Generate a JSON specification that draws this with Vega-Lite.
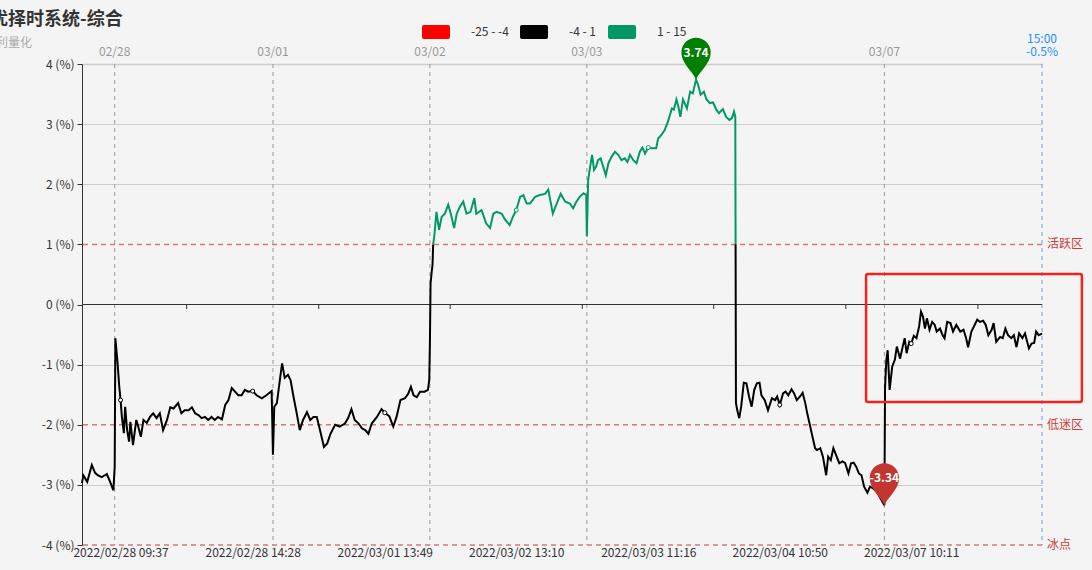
{
  "$schema": "https://vega.github.io/schema/vega-lite/v6.json",
  "width": 960,
  "height": 481,
  "autosize": {"type": "none"},
  "padding": {"left": 82, "top": 64, "right": 50, "bottom": 25},
  "background": "#f4f4f4",
  "config": {"view": {"stroke": null}, "font": "Noto Sans CJK SC"},
  "title": {
    "text": "精优择时系统-综合",
    "subtitle": "来自利量化",
    "anchor": "start",
    "frame": "group",
    "dx": -110,
    "offset": -31,
    "fontSize": 18,
    "fontWeight": "bold",
    "color": "#333333",
    "subtitleFontSize": 12,
    "subtitleColor": "#aaaaaa",
    "subtitlePadding": 9
  },
  "datasets": {
    "a": [
      {"i":0,"v":-2.97},{"i":2,"v":-2.84},{"i":8,"v":-2.95},{"i":15,"v":-2.67},{"i":20,"v":-2.80},{"i":24,"v":-2.84},{"i":30,"v":-2.87},{"i":35,"v":-2.84},{"i":38,"v":-2.82},{"i":43,"v":-2.95},{"i":48,"v":-3.09},{"i":50,"v":-2.70},{"i":51,"v":-0.56},{"i":54,"v":-0.92},{"i":57,"v":-1.37},{"i":59,"v":-1.59},{"i":61,"v":-1.87},{"i":64,"v":-2.14},{"i":66,"v":-1.70},{"i":69,"v":-2.09},{"i":72,"v":-2.28},{"i":74,"v":-1.95},{"i":78,"v":-2.34},{"i":83,"v":-1.92},{"i":86,"v":-2.03},{"i":90,"v":-2.20},{"i":94,"v":-1.92},{"i":99,"v":-1.97},{"i":104,"v":-1.87},{"i":109,"v":-1.81},{"i":114,"v":-1.89},{"i":119,"v":-1.81},{"i":124,"v":-2.09},{"i":130,"v":-1.92},{"i":135,"v":-1.71},{"i":140,"v":-1.73},{"i":147,"v":-1.64},{"i":152,"v":-1.81},{"i":157,"v":-1.76},{"i":163,"v":-1.76},{"i":168,"v":-1.71},{"i":173,"v":-1.81},{"i":178,"v":-1.84},{"i":183,"v":-1.89},{"i":188,"v":-1.87},{"i":193,"v":-1.92},{"i":198,"v":-1.87},{"i":203,"v":-1.92},{"i":208,"v":-1.87},{"i":214,"v":-1.91},{"i":219,"v":-1.67},{"i":224,"v":-1.59},{"i":229,"v":-1.39},{"i":234,"v":-1.45},{"i":239,"v":-1.51},{"i":244,"v":-1.51},{"i":249,"v":-1.42},{"i":254,"v":-1.45},{"i":261,"v":-1.44},{"i":267,"v":-1.51},{"i":275,"v":-1.56},{"i":282,"v":-1.51},{"i":290,"v":-1.44},{"i":292,"v":-2.50},{"i":294,"v":-1.70},{"i":298,"v":-1.64},{"i":303,"v":-1.22},{"i":306,"v":-0.98},{"i":310,"v":-1.22},{"i":315,"v":-1.17},{"i":319,"v":-1.26},{"i":323,"v":-1.51},{"i":328,"v":-1.79},{"i":333,"v":-2.09},{"i":338,"v":-1.92},{"i":344,"v":-1.79},{"i":349,"v":-1.92},{"i":354,"v":-1.87},{"i":359,"v":-1.87},{"i":364,"v":-2.09},{"i":370,"v":-2.37},{"i":375,"v":-2.31},{"i":380,"v":-2.15},{"i":387,"v":-2.00},{"i":394,"v":-2.03},{"i":402,"v":-1.98},{"i":407,"v":-1.89},{"i":412,"v":-1.74},{"i":417,"v":-1.92},{"i":423,"v":-1.98},{"i":428,"v":-2.06},{"i":433,"v":-2.09},{"i":438,"v":-2.15},{"i":443,"v":-1.98},{"i":451,"v":-1.87},{"i":458,"v":-1.74},{"i":463,"v":-1.80},{"i":470,"v":-1.86},{"i":476,"v":-2.03},{"i":481,"v":-1.87},{"i":487,"v":-1.59},{"i":494,"v":-1.56},{"i":499,"v":-1.48},{"i":503,"v":-1.37},{"i":507,"v":-1.51},{"i":512,"v":-1.54},{"i":517,"v":-1.45},{"i":524,"v":-1.45},{"i":529,"v":-1.42},{"i":531,"v":-1.26},{"i":532,"v":-0.65},{"i":533,"v":0.35},{"i":535,"v":0.57},{"i":536,"v":0.66},{"i":537,"v":1.0}
    ],
    "b": [
      {"i":537,"v":1.0},{"i":539,"v":1.16},{"i":542,"v":1.54},{"i":546,"v":1.24},{"i":550,"v":1.46},{"i":555,"v":1.51},{"i":560,"v":1.66},{"i":564,"v":1.51},{"i":569,"v":1.27},{"i":573,"v":1.51},{"i":578,"v":1.63},{"i":583,"v":1.71},{"i":588,"v":1.51},{"i":594,"v":1.54},{"i":600,"v":1.77},{"i":603,"v":1.51},{"i":611,"v":1.57},{"i":618,"v":1.35},{"i":624,"v":1.27},{"i":629,"v":1.51},{"i":634,"v":1.54},{"i":642,"v":1.51},{"i":647,"v":1.41},{"i":654,"v":1.32},{"i":659,"v":1.46},{"i":664,"v":1.57},{"i":670,"v":1.79},{"i":675,"v":1.82},{"i":680,"v":1.68},{"i":685,"v":1.68},{"i":693,"v":1.79},{"i":700,"v":1.82},{"i":708,"v":1.84},{"i":713,"v":1.91},{"i":720,"v":1.51},{"i":726,"v":1.68},{"i":732,"v":1.84},{"i":739,"v":1.71},{"i":746,"v":1.68},{"i":751,"v":1.60},{"i":756,"v":1.71},{"i":761,"v":1.79},{"i":767,"v":1.85},{"i":771,"v":1.82},{"i":772,"v":1.13},{"i":774,"v":2.07},{"i":777,"v":2.29},{"i":780,"v":2.49},{"i":783,"v":2.24},{"i":786,"v":2.29},{"i":789,"v":2.40},{"i":793,"v":2.43},{"i":797,"v":2.29},{"i":801,"v":2.15},{"i":805,"v":2.35},{"i":810,"v":2.46},{"i":815,"v":2.54},{"i":820,"v":2.49},{"i":825,"v":2.40},{"i":830,"v":2.43},{"i":834,"v":2.37},{"i":838,"v":2.49},{"i":843,"v":2.40},{"i":848,"v":2.35},{"i":853,"v":2.54},{"i":857,"v":2.61},{"i":861,"v":2.51},{"i":866,"v":2.61},{"i":871,"v":2.60},{"i":878,"v":2.60},{"i":881,"v":2.76},{"i":886,"v":2.82},{"i":891,"v":2.90},{"i":896,"v":3.04},{"i":902,"v":3.26},{"i":905,"v":3.24},{"i":909,"v":3.41},{"i":912,"v":3.29},{"i":915,"v":3.12},{"i":919,"v":3.41},{"i":925,"v":3.26},{"i":930,"v":3.54},{"i":934,"v":3.51},{"i":939,"v":3.74},{"i":942,"v":3.66},{"i":946,"v":3.49},{"i":951,"v":3.54},{"i":955,"v":3.41},{"i":960,"v":3.35},{"i":965,"v":3.36},{"i":970,"v":3.24},{"i":974,"v":3.18},{"i":980,"v":3.25},{"i":985,"v":3.12},{"i":990,"v":3.07},{"i":994,"v":3.10},{"i":997,"v":3.21},{"i":999,"v":3.12},{"i":999.45,"v":1.0}
    ],
    "c": [
      {"i":999.45,"v":1.0},{"i":1000,"v":-1.64},{"i":1002,"v":-1.76},{"i":1005,"v":-1.89},{"i":1008,"v":-1.70},{"i":1012,"v":-1.30},{"i":1016,"v":-1.31},{"i":1020,"v":-1.53},{"i":1024,"v":-1.70},{"i":1028,"v":-1.42},{"i":1032,"v":-1.31},{"i":1036,"v":-1.30},{"i":1039,"v":-1.51},{"i":1044,"v":-1.59},{"i":1049,"v":-1.76},{"i":1055,"v":-1.56},{"i":1060,"v":-1.59},{"i":1063,"v":-1.53},{"i":1067,"v":-1.67},{"i":1072,"v":-1.48},{"i":1076,"v":-1.45},{"i":1080,"v":-1.51},{"i":1085,"v":-1.41},{"i":1089,"v":-1.48},{"i":1093,"v":-1.59},{"i":1098,"v":-1.53},{"i":1102,"v":-1.47},{"i":1106,"v":-1.64},{"i":1109,"v":-1.81},{"i":1113,"v":-2.00},{"i":1117,"v":-2.20},{"i":1121,"v":-2.39},{"i":1124,"v":-2.42},{"i":1129,"v":-2.39},{"i":1133,"v":-2.53},{"i":1138,"v":-2.84},{"i":1141,"v":-2.53},{"i":1145,"v":-2.59},{"i":1149,"v":-2.39},{"i":1153,"v":-2.50},{"i":1158,"v":-2.64},{"i":1163,"v":-2.61},{"i":1167,"v":-2.64},{"i":1172,"v":-2.81},{"i":1176,"v":-2.64},{"i":1180,"v":-2.63},{"i":1184,"v":-2.70},{"i":1188,"v":-2.81},{"i":1192,"v":-2.84},{"i":1196,"v":-3.03},{"i":1201,"v":-3.13},{"i":1205,"v":-3.03},{"i":1210,"v":-3.06},{"i":1215,"v":-3.11},{"i":1220,"v":-3.20},{"i":1227,"v":-3.34},{"i":1228,"v":-1.37},{"i":1230,"v":-0.92},{"i":1232,"v":-0.76},{"i":1235,"v":-1.42},{"i":1239,"v":-1.03},{"i":1243,"v":-0.92},{"i":1246,"v":-0.70},{"i":1251,"v":-0.90},{"i":1255,"v":-0.70},{"i":1258,"v":-0.56},{"i":1261,"v":-0.81},{"i":1265,"v":-0.62},{"i":1268,"v":-0.65},{"i":1272,"v":-0.52},{"i":1276,"v":-0.56},{"i":1280,"v":-0.37},{"i":1283,"v":-0.12},{"i":1286,"v":-0.20},{"i":1289,"v":-0.40},{"i":1292,"v":-0.23},{"i":1296,"v":-0.42},{"i":1300,"v":-0.29},{"i":1304,"v":-0.34},{"i":1307,"v":-0.45},{"i":1312,"v":-0.40},{"i":1316,"v":-0.51},{"i":1319,"v":-0.56},{"i":1323,"v":-0.29},{"i":1328,"v":-0.31},{"i":1332,"v":-0.45},{"i":1337,"v":-0.34},{"i":1343,"v":-0.45},{"i":1348,"v":-0.42},{"i":1352,"v":-0.56},{"i":1355,"v":-0.71},{"i":1360,"v":-0.45},{"i":1365,"v":-0.34},{"i":1369,"v":-0.25},{"i":1373,"v":-0.29},{"i":1378,"v":-0.27},{"i":1382,"v":-0.34},{"i":1386,"v":-0.51},{"i":1391,"v":-0.42},{"i":1394,"v":-0.31},{"i":1398,"v":-0.62},{"i":1404,"v":-0.54},{"i":1408,"v":-0.56},{"i":1412,"v":-0.40},{"i":1416,"v":-0.51},{"i":1421,"v":-0.56},{"i":1425,"v":-0.51},{"i":1429,"v":-0.71},{"i":1433,"v":-0.48},{"i":1438,"v":-0.56},{"i":1442,"v":-0.48},{"i":1448,"v":-0.73},{"i":1452,"v":-0.65},{"i":1456,"v":-0.64},{"i":1459,"v":-0.45},{"i":1463,"v":-0.51},{"i":1467,"v":-0.49},{"i":1468,"v":-0.50}
    ],
    "sym": [
      {"i":59,"v":-1.59},{"i":261,"v":-1.44},{"i":463,"v":-1.80},{"i":664,"v":1.57},{"i":866,"v":2.61},{"i":1067,"v":-1.67},{"i":1268,"v":-0.65}
    ],
    "pins": [
      {"i":939,"v":3.74,"label":"3.74"},{"i":1227,"v":-3.34,"label":"-3.34"}
    ],
    "days": [
      {"i":50,"label":"02/28"},{"i":292,"label":"03/01"},{"i":532,"label":"03/02"},{"i":772,"label":"03/03"},{"i":1227,"label":"03/07"},{"i":1468,"label":"15:00\n-0.5%"}
    ],
    "levels": [
      {"v":1,"label":"活跃区"},{"v":-2,"label":"低迷区"},{"v":-4,"label":"冰点"}
    ],
    "zticks": [
      {"i":160},{"i":362},{"i":563},{"i":765},{"i":966},{"i":1168},{"i":1370}
    ],
    "box": [
      {"x1":1199,"x2":1529,"y1":0.507,"y2":-1.62}
    ]
  },
  "layer": [
    {
      "data": {"name": "days"},
      "mark": {"type": "rule", "strokeDash": [4, 4], "strokeWidth": 1},
      "encoding": {
        "x": {
          "field": "i", "type": "quantitative",
          "scale": {"domain": [0, 1468], "nice": false, "zero": false},
          "axis": {
            "values": [59, 261, 463, 664, 866, 1067, 1268],
            "labelExpr": "datum.value==59?'2022/02/28 09:37':datum.value==261?'2022/02/28 14:28':datum.value==463?'2022/03/01 13:49':datum.value==664?'2022/03/02 13:10':datum.value==866?'2022/03/03 11:16':datum.value==1067?'2022/03/04 10:50':'2022/03/07 10:11'",
            "domain": false, "ticks": false, "grid": false, "title": null,
            "labelColor": "#333333", "labelFontSize": 12, "labelPadding": 2,
            "labelOverlap": false, "labelFlush": false
          }
        },
        "y": {
          "datum": 0, "type": "quantitative",
          "scale": {"domain": [-4, 4], "nice": false, "zero": false},
          "axis": {
            "values": [-4, -3, -2, -1, 0, 1, 2, 3, 4],
            "labelExpr": "datum.value + ' (%)'",
            "title": null,
            "grid": true,
            "gridColor": {"condition": {"test": "datum.value == 1 || datum.value == -2 || datum.value == -4 || datum.value == 0", "value": "rgba(0,0,0,0)"}, "value": "#cccccc"},
            "gridWidth": {"condition": {"test": "datum.value == 4", "value": 1.5}, "value": 1},
            "domainColor": "#333333", "tickColor": "#333333", "tickSize": 5,
            "labelColor": "#333333", "labelFontSize": 12, "labelPadding": 3
          }
        },
        "y2": {"datum": 0},
        "stroke": {"condition": {"test": "datum.i == 1468", "value": "#5aa0e6"}, "value": "#999999"}
      }
    },
    {
      "data": {"name": "days"},
      "mark": {"type": "rule", "strokeDash": [4, 4], "strokeWidth": 1},
      "encoding": {
        "x": {"field": "i", "type": "quantitative"},
        "stroke": {"condition": {"test": "datum.i == 1468", "value": "#5aa0e6"}, "value": "#999999"}
      }
    },
    {
      "data": {"name": "days"},
      "transform": [{"filter": "datum.i < 1468"}],
      "mark": {"type": "text", "baseline": "bottom", "dy": -5, "fontSize": 12, "color": "#999999"},
      "encoding": {
        "x": {"field": "i", "type": "quantitative"},
        "y": {"datum": 4},
        "text": {"field": "label"}
      }
    },
    {
      "data": {"name": "days"},
      "transform": [{"filter": "datum.i == 1468"}],
      "mark": {"type": "text", "baseline": "bottom", "dy": -18, "fontSize": 12, "lineBreak": "\n", "lineHeight": 13, "color": "#1e90ff"},
      "encoding": {
        "x": {"field": "i", "type": "quantitative"},
        "y": {"datum": 4},
        "text": {"field": "label"}
      }
    },
    {
      "data": {"name": "levels"},
      "mark": {"type": "rule", "strokeDash": [5, 4], "strokeWidth": 1.5, "color": "#d67878"},
      "encoding": {"y": {"field": "v", "type": "quantitative"}}
    },
    {
      "data": {"name": "levels"},
      "mark": {"type": "text", "align": "left", "baseline": "middle", "dx": 5, "fontSize": 12, "color": "#cc3b3b"},
      "encoding": {
        "x": {"datum": 1468},
        "y": {"field": "v", "type": "quantitative"},
        "text": {"field": "label"}
      }
    },
    {
      "data": {"name": "box"},
      "mark": {"type": "rule", "color": "#333333", "strokeWidth": 1},
      "encoding": {"y": {"datum": 0}}
    },
    {
      "data": {"name": "zticks"},
      "mark": {"type": "rule", "color": "#333333", "strokeWidth": 1},
      "encoding": {
        "x": {"field": "i", "type": "quantitative"},
        "y": {"datum": 0},
        "y2": {"datum": -0.075}
      }
    },
    {
      "data": {"name": "a"},
      "mark": {"type": "line", "strokeWidth": 2},
      "encoding": {
        "x": {"field": "i", "type": "quantitative"},
        "y": {"field": "v", "type": "quantitative"},
        "color": {
          "datum": "-4 - 1", "type": "nominal",
          "scale": {"domain": ["-25 - -4", "-4 - 1", "1 - 15"], "range": ["#ff0000", "#000000", "#009966"]},
          "legend": {
            "orient": "none", "legendX": 340, "legendY": -46, "direction": "horizontal",
            "title": null, "padding": 0,
            "symbolType": "M-0.86,-0.5 L0.86,-0.5 Q1,-0.5 1,-0.36 L1,0.36 Q1,0.5 0.86,0.5 L-0.86,0.5 Q-1,0.5 -1,0.36 L-1,-0.36 Q-1,-0.5 -0.86,-0.5 Z",
            "symbolSize": 784, "symbolStrokeWidth": 0,
            "labelFontSize": 12, "labelColor": "#333333", "labelOffset": 21, "columnPadding": 11,
            "encode": {"symbols": {"update": {"fill": {"scale": "color", "field": "value"}, "opacity": {"value": 1}, "strokeWidth": {"value": 0}}}}
          }
        }
      }
    },
    {
      "data": {"name": "b"},
      "mark": {"type": "line", "strokeWidth": 2},
      "encoding": {
        "x": {"field": "i", "type": "quantitative"},
        "y": {"field": "v", "type": "quantitative"},
        "color": {"datum": "1 - 15", "type": "nominal"}
      }
    },
    {
      "data": {"name": "c"},
      "mark": {"type": "line", "strokeWidth": 2},
      "encoding": {
        "x": {"field": "i", "type": "quantitative"},
        "y": {"field": "v", "type": "quantitative"},
        "color": {"datum": "-4 - 1", "type": "nominal"}
      }
    },
    {
      "data": {"name": "sym"},
      "mark": {"type": "point", "filled": true, "size": 16, "strokeWidth": 1, "fill": "#ffffff", "opacity": 1},
      "encoding": {
        "x": {"field": "i", "type": "quantitative"},
        "y": {"field": "v", "type": "quantitative"},
        "stroke": {"condition": {"test": "datum.v > 1", "value": "#009966"}, "value": "#000000"}
      }
    },
    {
      "data": {"name": "pins"},
      "mark": {
        "type": "point", "filled": true, "opacity": 1, "size": 1764, "yOffset": -21, "strokeWidth": 0,
        "shape": "M0,1 C-0.15,0.62 -0.7,0.25 -0.7,-0.3 A0.7,0.7 0 1 1 0.7,-0.3 C0.7,0.25 0.15,0.62 0,1 Z"
      },
      "encoding": {
        "x": {"field": "i", "type": "quantitative"},
        "y": {"field": "v", "type": "quantitative"},
        "fill": {"condition": {"test": "datum.v > 0", "value": "#008000"}, "value": "#c23531"}
      }
    },
    {
      "data": {"name": "pins"},
      "mark": {"type": "text", "color": "#ffffff", "fontSize": 12, "fontWeight": "bold", "align": "center", "baseline": "middle", "dy": -27},
      "encoding": {
        "x": {"field": "i", "type": "quantitative"},
        "y": {"field": "v", "type": "quantitative"},
        "text": {"field": "label"}
      }
    },
    {
      "data": {"name": "box"},
      "mark": {"type": "rect", "fill": null, "fillOpacity": 0, "stroke": "#f2231a", "strokeWidth": 2.5, "cornerRadius": 2},
      "encoding": {
        "x": {"field": "x1", "type": "quantitative"},
        "x2": {"field": "x2"},
        "y": {"field": "y1", "type": "quantitative"},
        "y2": {"field": "y2"}
      }
    }
  ]
}
